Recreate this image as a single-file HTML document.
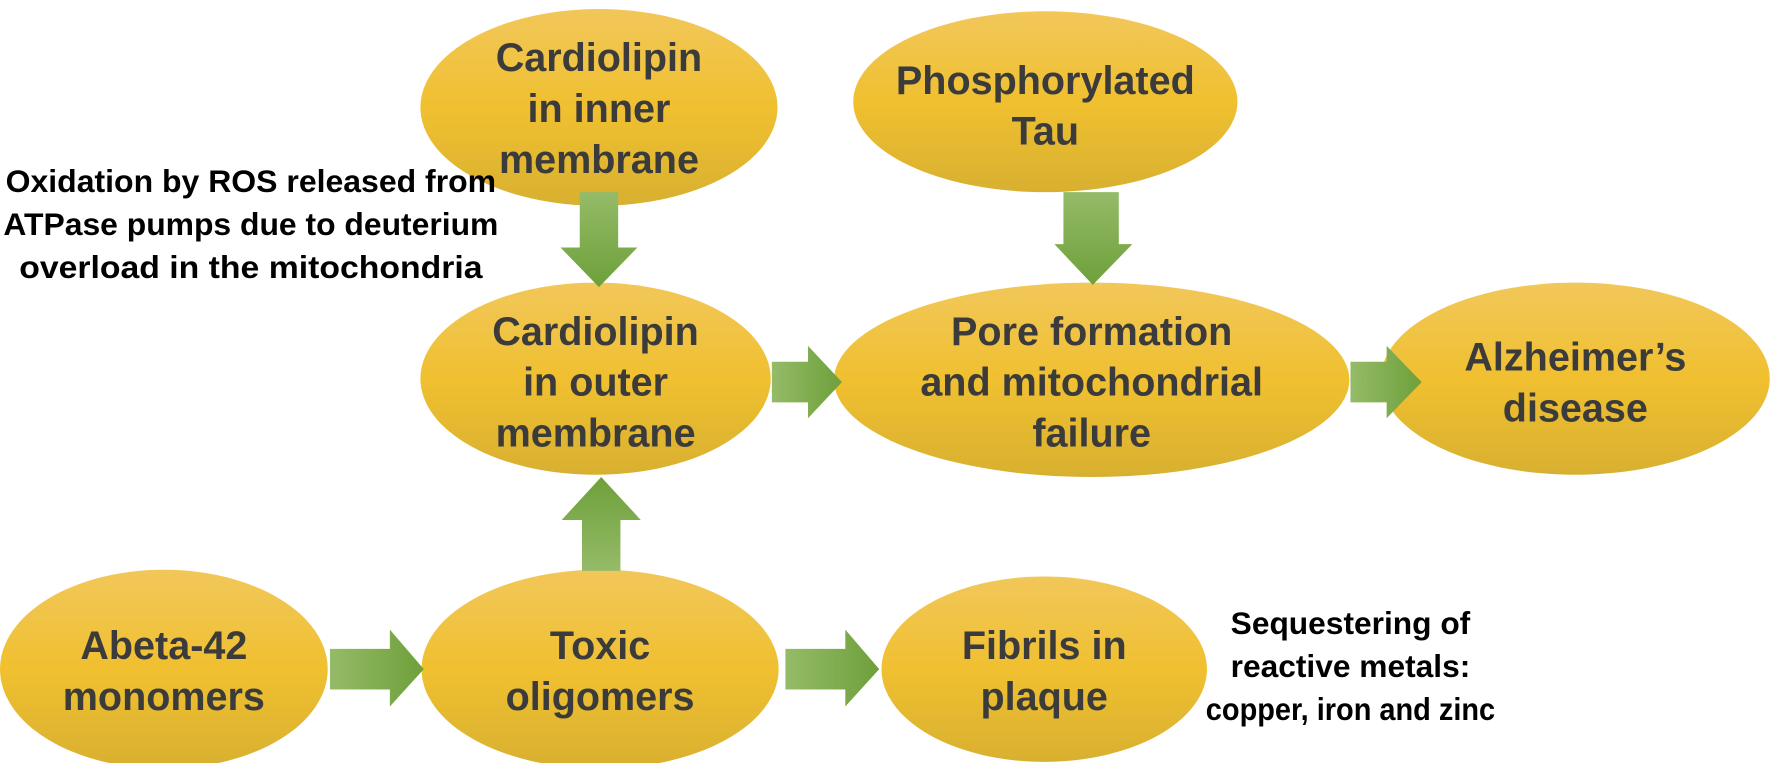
<!DOCTYPE html>
<html><head><meta charset="utf-8"><style>
html,body{margin:0;padding:0;background:#fff;}
svg{display:block;}
</style></head><body>
<svg width="1772" height="763" viewBox="0 0 1568 675" preserveAspectRatio="none" xmlns="http://www.w3.org/2000/svg">
<defs>
<linearGradient id="y" x1="0" y1="0" x2="0" y2="1">
<stop offset="0" stop-color="#f1c75a"/>
<stop offset="0.5" stop-color="#f0c030"/>
<stop offset="1" stop-color="#d8b030"/>
</linearGradient>
<linearGradient id="gv" x1="0" y1="0" x2="0" y2="1">
<stop offset="0" stop-color="#95bb68"/>
<stop offset="1" stop-color="#6ea03a"/>
</linearGradient>
<linearGradient id="gh" x1="0" y1="0" x2="1" y2="0">
<stop offset="0" stop-color="#95bb68"/>
<stop offset="1" stop-color="#6ea03a"/>
</linearGradient>
<linearGradient id="gu" x1="0" y1="1" x2="0" y2="0">
<stop offset="0" stop-color="#95bb68"/>
<stop offset="1" stop-color="#6ea03a"/>
</linearGradient>
</defs>
<g fill="url(#y)">
<ellipse cx="530" cy="95" rx="158" ry="87"/>
<ellipse cx="925" cy="90" rx="170" ry="80"/>
<ellipse cx="527" cy="335" rx="155" ry="85"/>
<ellipse cx="966" cy="336" rx="228" ry="86"/>
<ellipse cx="1394" cy="335" rx="172" ry="85"/>
<ellipse cx="145" cy="592" rx="145" ry="88"/>
<ellipse cx="531" cy="592" rx="158" ry="88"/>
<ellipse cx="924" cy="592" rx="144" ry="82"/>
</g>
<polygon fill="url(#gv)" points="513,170 547,170 547,219 564,219 530,254 496,219 513,219"/>
<polygon fill="url(#gv)" points="941,170 990,170 990,216 1002,216 967,252 933,216 941,216"/>
<polygon fill="url(#gu)" points="515,505 549,505 549,460 567,460 532,422 497,460 515,460"/>
<polygon fill="url(#gh)" points="683,320 715,320 715,306 745,338 715,370 715,356 683,356"/>
<polygon fill="url(#gh)" points="1195,320 1227,320 1227,306 1258,338 1227,370 1227,356 1195,356"/>
<polygon fill="url(#gh)" points="292,574 345,574 345,557 375,592 345,625 345,610 292,610"/>
<polygon fill="url(#gh)" points="695,574 748,574 748,557 778,592 748,625 748,610 695,610"/>
<g font-family="Liberation Sans, sans-serif" font-weight="bold" fill="#3b3b3b" font-size="35" text-anchor="middle">
<text x="530" y="63">Cardiolipin</text><text x="530" y="108">in inner</text><text x="530" y="153">membrane</text>
<text x="925" y="83">Phosphorylated</text><text x="925" y="128">Tau</text>
<text x="527" y="305">Cardiolipin</text><text x="527" y="350">in outer</text><text x="527" y="395">membrane</text>
<text x="966" y="305">Pore formation</text><text x="966" y="350">and mitochondrial</text><text x="966" y="395">failure</text>
<text x="1394" y="328">Alzheimer’s</text><text x="1394" y="373">disease</text>
<text x="145" y="583">Abeta-42</text><text x="145" y="628">monomers</text>
<text x="531" y="583">Toxic</text><text x="531" y="628">oligomers</text>
<text x="924" y="583">Fibrils in</text><text x="924" y="628">plaque</text>
</g>
<g font-family="Liberation Sans, sans-serif" font-weight="bold" fill="#000" font-size="28" text-anchor="middle">
<text x="222" y="170" textLength="434" lengthAdjust="spacingAndGlyphs">Oxidation by ROS released from</text>
<text x="222" y="208" textLength="438" lengthAdjust="spacingAndGlyphs">ATPase pumps due to deuterium</text>
<text x="222" y="246" textLength="410" lengthAdjust="spacingAndGlyphs">overload in the mitochondria</text>
<text x="1195" y="561" textLength="212" lengthAdjust="spacingAndGlyphs">Sequestering of</text>
<text x="1195" y="599" textLength="212" lengthAdjust="spacingAndGlyphs">reactive metals:</text>
<text x="1195" y="637" textLength="256" lengthAdjust="spacingAndGlyphs">copper, iron and zinc</text>
</g>
</svg>
</body></html>
